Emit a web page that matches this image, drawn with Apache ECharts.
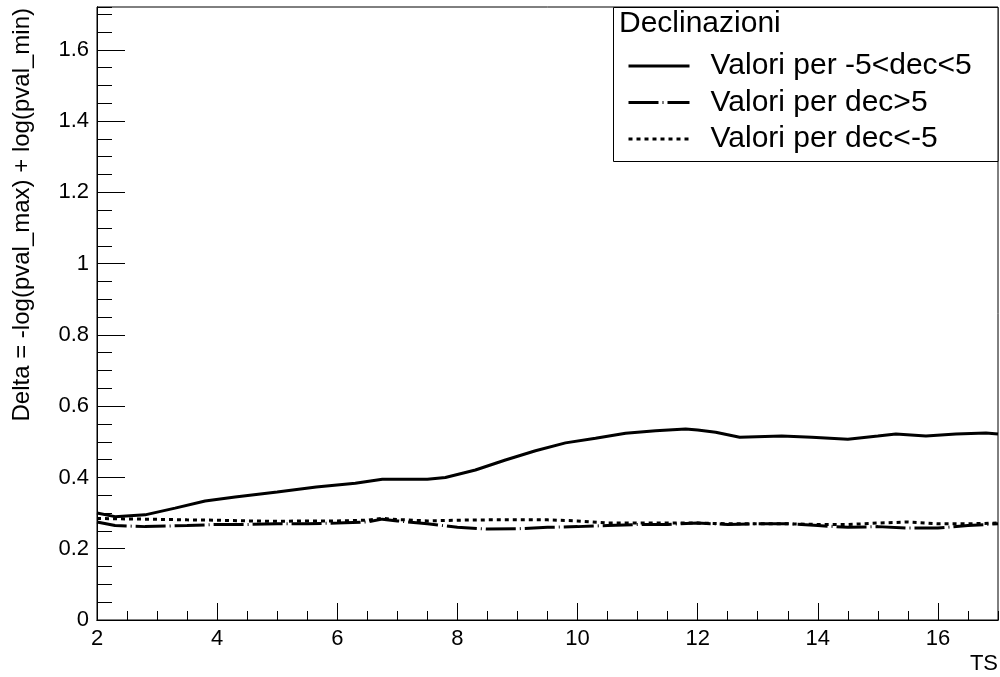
<!DOCTYPE html>
<html>
<head>
<meta charset="utf-8">
<script src="https://cdn.jsdelivr.net/npm/echarts@6/dist/echarts.min.js"></script>
<style>
html,body{margin:0;padding:0;background:#fff;}
#c{width:1000px;height:677px;}
</style>
</head>
<body>
<div id="c"></div>
<script>
// ---- data ----
var tsSolid = [2.0,2.3,2.8,3.3,3.8,4.3,5.0,5.65,6.3,6.75,7.5,7.8,8.3,8.8,9.3,9.8,10.3,10.8,11.3,11.8,12.0,12.3,12.7,13.4,13.9,14.5,15.0,15.3,15.8,16.3,16.8,17.0];
var valSolid = [0.300,0.290,0.295,0.314,0.334,0.345,0.359,0.373,0.384,0.395,0.395,0.400,0.421,0.449,0.475,0.497,0.510,0.524,0.531,0.536,0.533,0.527,0.513,0.516,0.513,0.507,0.516,0.522,0.516,0.522,0.525,0.522];

var tsSide = [2.0,2.3,2.8,3.5,4.0,4.5,5.0,5.5,6.0,6.5,6.75,7.0,7.5,8.0,8.5,9.0,9.5,10.0,10.5,11.0,11.5,12.0,12.5,13.0,13.5,14.0,14.5,15.0,15.5,16.0,16.5,17.0];
var valDecPos = [0.275,0.265,0.262,0.265,0.268,0.268,0.270,0.270,0.272,0.275,0.283,0.278,0.270,0.260,0.255,0.256,0.260,0.262,0.265,0.268,0.268,0.272,0.268,0.270,0.270,0.265,0.260,0.262,0.258,0.258,0.265,0.270];
var valDecNeg = [0.285,0.284,0.283,0.281,0.280,0.278,0.277,0.278,0.278,0.280,0.285,0.282,0.278,0.280,0.281,0.281,0.281,0.278,0.272,0.272,0.272,0.272,0.270,0.270,0.270,0.268,0.268,0.272,0.275,0.270,0.270,0.272];

var seriesNames = ['Valori per -5<dec<5','Valori per dec>5','Valori per dec<-5'];
var legendTitle = 'Declinazioni';
var xTitle = 'TS';
var yTitle = 'Delta = -log(pval_max) + log(pval_min)';

function pairs(xs, ys){ return xs.map(function(x,i){ return [x, ys[i]]; }); }

var FONT = '"Liberation Sans", Arial, Helvetica, sans-serif';
var chart = echarts.init(document.getElementById('c'), null, {renderer:'canvas'});

var baseX = {type:'value', min:2, max:17, position:'bottom',
  axisLine:{show:true, lineStyle:{color:'#000', width:1}},
  splitLine:{show:false}};
var baseY = {type:'value', min:0, max:1.72, position:'left',
  axisLine:{show:true, lineStyle:{color:'#000', width:1}},
  splitLine:{show:false}};

var option = {
  animation:false,
  backgroundColor:'#fff',
  grid:{left:97, right:2, top:7, bottom:57, show:true, borderColor:'#000', borderWidth:1, backgroundColor:'transparent', containLabel:false},
  xAxis:[
    Object.assign({}, baseX, {interval:2,
      axisTick:{show:true, inside:true, length:17, lineStyle:{color:'#000', width:1}},
      axisLabel:{show:true, margin:8, fontSize:22, color:'#000', fontFamily:FONT, showMaxLabel:false}}),
    Object.assign({}, baseX, {interval:0.5,
      axisTick:{show:true, inside:true, length:9, lineStyle:{color:'#000', width:1}},
      axisLabel:{show:false}})
  ],
  yAxis:[
    Object.assign({}, baseY, {interval:0.2,
      axisTick:{show:true, inside:true, length:28, lineStyle:{color:'#000', width:1}},
      axisLabel:{show:true, margin:8, fontSize:22, color:'#000', fontFamily:FONT, showMaxLabel:false,
        formatter:function(v){ return String(Math.round(v*10)/10); }}}),
    Object.assign({}, baseY, {interval:0.05,
      axisTick:{show:true, inside:true, length:15, lineStyle:{color:'#000', width:1}},
      axisLabel:{show:false}})
  ],
  legend:{
    orient:'vertical', left:627, top:51, padding:0, itemWidth:61, itemHeight:14, itemGap:6.5, z:100,
    data:seriesNames, selectedMode:false,
    itemStyle:{opacity:0},
    lineStyle:{width:3, color:'#000'},
    textStyle:{fontSize:30, color:'#000', fontFamily:FONT, lineHeight:30, padding:[0,0,0,16]}
  },
  graphic:[
    {type:'rect', shape:{x:613.5, y:7.5, width:384.5, height:154}, style:{fill:'#fff', stroke:'#000', lineWidth:1}, z:50},
    {type:'text', x:619, y:24, style:{text:legendTitle, font:'30px '+FONT, fill:'#000', textVerticalAlign:'middle'}, z:60},
    {type:'text', x:998, y:664, style:{text:xTitle, font:'22px '+FONT, fill:'#000', textAlign:'right', textVerticalAlign:'middle'}, z:60},
    {type:'text', x:22, y:8, rotation:Math.PI/2, style:{text:yTitle, font:'24px '+FONT, fill:'#000', textAlign:'right', textVerticalAlign:'middle'}, z:60}
  ],
  series:[
    {name:seriesNames[0], type:'line', xAxisIndex:0, yAxisIndex:0, data:pairs(tsSolid, valSolid),
      symbol:'none', showSymbol:false, smooth:false, lineStyle:{color:'#000', width:3, type:'solid'}, itemStyle:{color:'#000'}},
    {name:seriesNames[1], type:'line', xAxisIndex:0, yAxisIndex:0, data:pairs(tsSide, valDecPos),
      symbol:'none', showSymbol:false, smooth:false, lineStyle:{color:'#000', width:3, type:[30,4,1,4]}, itemStyle:{color:'#000'}},
    {name:seriesNames[2], type:'line', xAxisIndex:0, yAxisIndex:0, data:pairs(tsSide, valDecNeg),
      symbol:'none', showSymbol:false, smooth:false, lineStyle:{color:'#000', width:3, type:[4,4]}, itemStyle:{color:'#000'}}
  ]
};
chart.setOption(option);
</script>
</body>
</html>
